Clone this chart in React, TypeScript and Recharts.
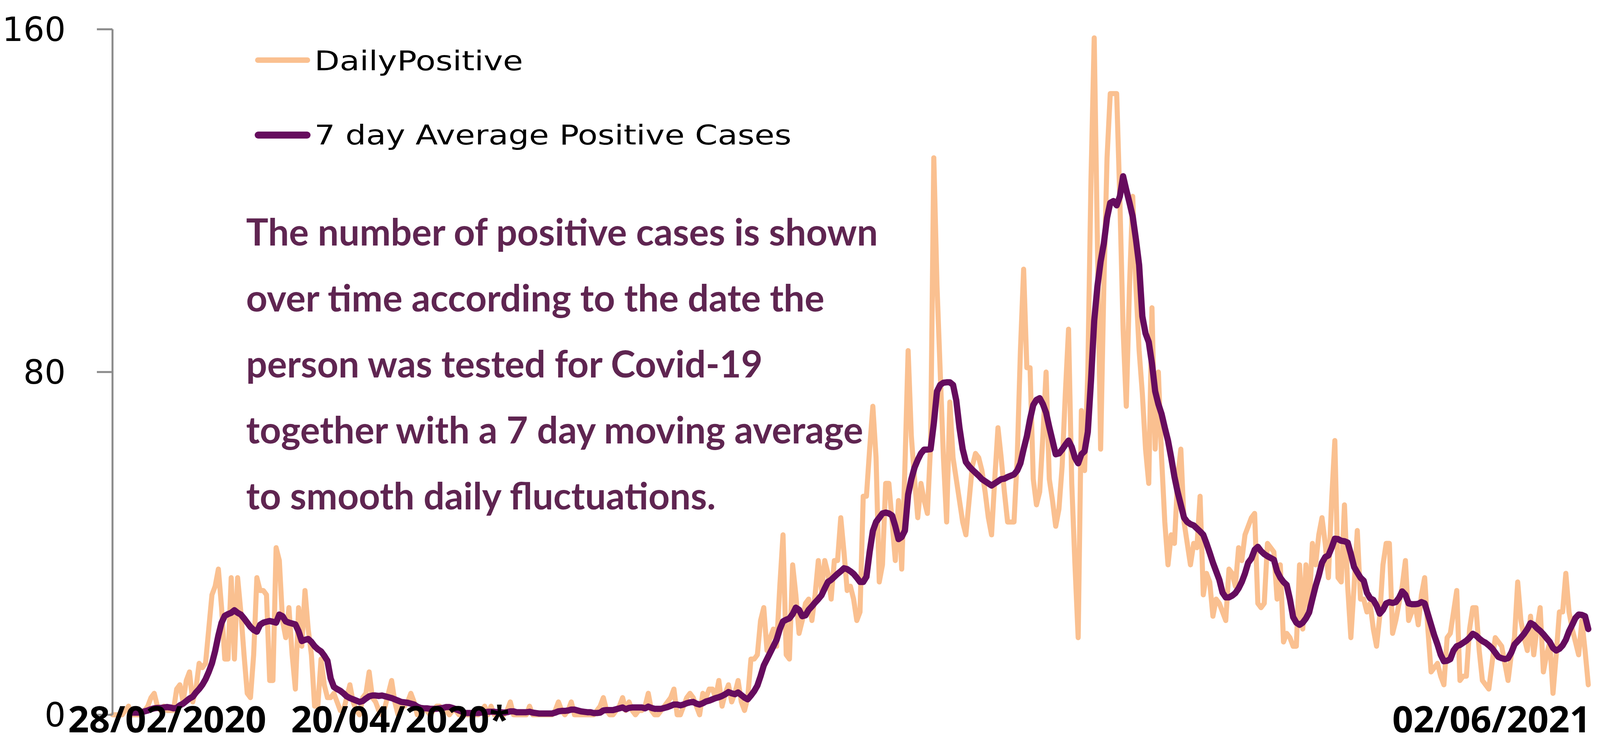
import React from "react";
import { LineChart, Line, XAxis, YAxis, Legend } from "recharts";

// one value per day, 28/02/2020 .. 02/06/2021
const DAILY_POSITIVE = [
  0, 0, 0, 0, 1, 2, 0, 0, 0, 0,
  1, 2, 4, 5, 2, 1, 2, 1, 1, 1,
  6, 7, 3, 8, 10, 3, 6, 12, 11, 12,
  20, 28, 30, 34, 25, 13, 13, 32, 13, 32,
  24, 14, 5, 4, 14, 32, 29, 29, 28, 8,
  8, 39, 36, 22, 18, 25, 14, 6, 25, 16,
  29, 20, 14, 2, 2, 13, 7, 4, 4, 5,
  3, 1, 1, 4, 7, 3, 1, 0, 4, 5,
  10, 4, 3, 1, 0, 2, 5, 8, 3, 0,
  3, 2, 3, 5, 3, 0, 1, 1, 1, 0,
  1, 2, 2, 1, 1, 0, 1, 1, 0, 0,
  0, 0, 0, 0, 0, 1, 2, 0, 2, 0,
  0, 0, 0, 1, 3, 0, 0, 0, 0, 0,
  2, 0, 0, 0, 0, 0, 0, 0, 1, 3,
  1, 0, 1, 3, 0, 0, 0, 0, 0, 0,
  0, 1, 2, 4, 1, 0, 0, 1, 2, 4,
  1, 3, 1, 0, 1, 1, 2, 5, 1, 0,
  0, 1, 2, 3, 4, 6, 0, 0, 2, 4,
  5, 4, 2, 0, 5, 4, 6, 6, 4, 8,
  2, 5, 7, 3, 5, 8, 3, 1, 4, 13,
  13, 14, 22, 25, 15, 18, 20, 16, 30, 42,
  14, 13, 35, 28, 19, 22, 26, 27, 22, 28,
  36, 29, 36, 33, 27, 36, 36, 46, 38, 29,
  30, 27, 22, 24, 51, 51, 62, 72, 60, 31,
  35, 54, 54, 45, 36, 50, 34, 58, 85, 65,
  55, 46, 54, 50, 47, 63, 130, 100, 80, 60,
  45, 73, 60, 55, 50, 45, 42, 50, 58, 61,
  60, 57, 52, 46, 42, 55, 67, 60, 52, 45,
  45, 45, 60, 85, 104, 81, 81, 55, 49, 52,
  65, 80, 55, 50, 44, 48, 58, 75, 90, 54,
  35, 18, 71, 57, 80, 125, 158, 110, 62, 100,
  130, 145, 145, 145, 120, 90, 72, 100, 121, 100,
  85, 75, 62, 54, 95, 62, 80, 60, 45, 35,
  42, 40, 55, 62, 45, 40, 35, 40, 39, 51,
  28, 33, 31, 23, 27, 26, 24, 22, 34, 33,
  30, 39, 36, 42, 44, 46, 47, 26, 25, 26,
  40, 39, 38, 27, 35, 17, 19, 18, 16, 16,
  35, 20, 35, 25, 40, 35, 42, 46, 40, 32,
  50, 64, 32, 31, 49, 30, 18, 30, 43, 27,
  27, 24, 26, 20, 16, 23, 35, 40, 40, 19,
  22, 26, 30, 36, 22, 24, 26, 21, 28, 32,
  20, 10, 11, 12, 9, 7, 18, 19, 24, 29,
  8, 9, 9, 20, 25, 25, 15, 8, 7, 6,
  12, 18, 17, 16, 12, 8, 14, 18, 31, 22,
  18, 15, 23, 14, 20, 25, 10, 14, 17, 5,
  14, 24, 24, 33, 24, 20, 17, 14, 22, 15,
  7,
];

// 7 day average, first value on day 7
const AVG_7_DAY = [
  null, null, null, null, null, null, 0.5, 0.5, 0.5, 0.6,
  0.8, 1.0, 1.3, 1.5, 1.6, 1.6, 1.7, 1.8, 1.7, 1.5,
  1.6, 2.2, 2.6, 3.2, 3.8, 4.2, 5.2, 6.0, 7.0, 8.3,
  10.0, 12.0, 14.9, 18.5, 21.5, 23.1, 23.5, 23.8, 24.4, 23.8,
  23.4, 22.5, 21.5, 20.5, 19.8, 19.4, 21.0, 21.5, 21.7, 21.9,
  21.7, 21.5, 23.4, 23.0, 21.8, 21.5, 21.3, 21.1, 19.5, 17.2,
  17.5, 17.7, 17.0, 16.0, 15.3, 14.8, 13.8, 12.6, 8.5, 6.5,
  6.0, 5.6, 5.0, 4.3, 3.9, 3.6, 3.3, 3.0, 3.2, 3.8,
  4.3, 4.5, 4.5, 4.4, 4.5, 4.3, 4.1, 3.9, 3.6, 3.3,
  3.0, 2.9, 2.8, 2.6, 2.4, 1.9, 1.6, 1.5, 1.5, 1.4,
  1.4, 1.4, 1.5, 1.6, 1.8, 1.8, 1.6, 1.3, 1.0, 0.7,
  0.4, 0.4, 0.4, 0.4, 0.4, 0.5, 0.6, 0.7, 0.7, 0.7,
  0.6, 0.6, 0.5, 0.6, 0.8, 0.8, 0.6, 0.6, 0.6, 0.6,
  0.7, 0.5, 0.4, 0.3, 0.3, 0.3, 0.3, 0.3, 0.5, 0.8,
  0.9, 0.9, 1.0, 1.2, 1.2, 1.0, 0.8, 0.7, 0.6, 0.6,
  0.4, 0.4, 0.5, 1.0, 1.1, 1.1, 1.1, 1.3, 1.5, 1.7,
  1.3, 1.6, 1.7, 1.7, 1.7, 1.7, 1.5, 1.9, 1.6, 1.4,
  1.4, 1.4, 1.6, 1.8, 2.1, 2.4, 2.4, 2.2, 2.4, 2.7,
  2.9, 3.0, 2.6, 2.4, 2.7, 3.1, 3.3, 3.6, 3.9, 4.1,
  4.4, 4.8, 5.3, 5.0, 4.8, 5.2, 4.6, 4.0, 3.6, 4.5,
  5.5, 6.8, 9.0, 11.5, 13.0, 14.5, 16.0, 17.5, 20.0, 21.8,
  22.2, 22.5, 23.5, 25.0, 24.5, 23.0, 23.2, 24.5, 25.3, 26.2,
  27.0, 27.9, 29.5, 31.0, 31.5, 32.2, 32.9, 33.5, 34.2, 34.0,
  33.5, 32.9, 32.0, 31.0, 31.0, 32.2, 38.0, 42.9, 45.0, 46.0,
  47.0, 47.2, 47.0, 46.5, 44.0, 41.0, 41.5, 43.0, 51.4, 55.0,
  57.7, 59.5, 61.0, 61.9, 61.9, 62.0, 68.0, 75.5, 77.0, 77.5,
  77.6, 77.6, 77.0, 73.4, 67.0, 62.0, 59.0, 58.0, 57.2, 56.5,
  55.8, 55.0, 54.5, 54.0, 53.5, 54.0, 54.5, 55.0, 55.1, 55.5,
  55.8, 56.1, 57.0, 58.7, 62.0, 65.0, 69.0, 72.3, 73.5, 73.9,
  72.5, 70.5, 67.1, 64.0, 60.8, 61.0, 61.9, 63.0, 64.0, 62.5,
  60.0, 58.7, 60.8, 61.5, 66.0, 78.0, 92.0, 100.0, 105.8, 110.0,
  116.0, 119.5, 119.9, 118.9, 121.0, 125.7, 122.5, 119.5, 116.3, 111.0,
  105.0, 93.0, 89.0, 87.0, 82.0, 75.5, 72.5, 70.2, 67.0, 64.0,
  60.0, 55.6, 52.0, 49.0, 46.0, 45.0, 44.5, 44.2, 43.5, 42.8,
  42.0, 40.0, 37.8, 35.5, 33.5, 31.5, 28.5, 27.4, 27.4, 27.8,
  28.4, 29.5, 31.0, 33.0, 35.5, 36.5, 38.5, 39.2, 38.2, 37.5,
  37.0, 36.6, 36.2, 33.5, 32.0, 31.0, 30.3, 27.0, 22.8, 21.5,
  21.0, 21.5, 22.5, 23.9, 27.0, 30.0, 32.5, 35.5, 36.8, 37.2,
  39.0, 41.1, 41.0, 40.6, 40.5, 40.2, 37.5, 34.5, 33.2, 32.0,
  31.3, 28.5, 27.2, 26.8, 25.5, 23.6, 24.5, 26.0, 26.3, 26.1,
  26.3, 27.3, 28.8, 28.0, 26.0, 25.8, 25.8, 25.9, 26.3, 26.0,
  23.5, 21.0, 18.5, 16.4, 14.0, 12.5, 12.6, 13.0, 15.0, 16.0,
  16.3, 16.8, 17.3, 18.0, 18.9, 18.5, 17.8, 17.2, 16.8, 16.2,
  15.5, 14.5, 13.5, 13.2, 13.0, 13.2, 14.5, 16.4, 17.2, 18.0,
  18.9, 20.0, 21.4, 21.0, 20.2, 19.6, 18.8, 17.9, 17.0, 15.6,
  15.0, 15.4, 16.2, 17.5, 19.5, 21.0, 22.6, 23.4, 23.3, 23.0,
  20.0,
];

const X_TICKS = [0, 52, 460];
const X_TICK_LABELS = ["28/02/2020", "20/04/2020*", "02/06/2021"];
const Y_TICKS = [0, 80, 160];

const SERIES_NAMES = ["DailyPositive", "7 day Average Positive Cases"];

const NOTE_LINES = [
  "The number of positive cases is shown",
  "over time according to the date the",
  "person was tested for Covid-19",
  "together with a 7 day moving average",
  "to smooth daily fluctuations.",
];

const ORANGE = "#fac090";
const PURPLE = "#660c5e";
const NOTE_COLOR = "#5f2551";
const AXIS_GREY = "#8a8a8a";

const H = 1911;

const data = DAILY_POSITIVE.map((v, i) => ({ day: i, daily: v, avg: AVG_7_DAY[i] }));

// the two left labels sit side by side at the left; the last one ends at its day
const TICK_PLACE = [
  { anchor: "middle", at: 428 },
  { anchor: "start", at: 745 },
  { anchor: "end", dx: 6 },
];

function DateTick(props: any) {
  const { x, payload } = props;
  const i = X_TICKS.indexOf(payload.value);
  if (i < 0) return null;
  const p: any = TICK_PLACE[i];
  const tx = p.at !== undefined ? p.at : x + p.dx;
  return (
    <text
      x={tx}
      y={1876}
      textAnchor={p.anchor}
      fontFamily="'Open Sans', sans-serif"
      fontWeight={700}
      fontSize={94}
      fill="#000"
    >
      {X_TICK_LABELS[i]}
    </text>
  );
}

function LegendBox() {
  const text = {
    fontFamily: "'DejaVu Sans', sans-serif",
    fontSize: 70,
    fill: "#000",
  };
  return (
    <svg width={2200} height={420}>
      <line x1={660} x2={787} y1={154} y2={154} stroke={ORANGE} strokeWidth={14} strokeLinecap="round" />
      <text x={805} y={180} style={text} textLength={534} lengthAdjust="spacingAndGlyphs">
        {SERIES_NAMES[0]}
      </text>
      <line x1={661} x2={786} y1={346} y2={346} stroke={PURPLE} strokeWidth={18} strokeLinecap="round" />
      <text x={805} y={370} style={text} textLength={1221} lengthAdjust="spacingAndGlyphs">
        {SERIES_NAMES[1]}
      </text>
    </svg>
  );
}

export default function App() {
  // fit the page width (4789 in the target window)
  const W = typeof window !== "undefined" && window.innerWidth ? Math.min(window.innerWidth, 4789) : 4789;
  return (
    <div style={{ position: "relative", width: W, height: H, margin: -8, background: "#fff" }}>
      <LineChart width={W} height={H} data={data} margin={{ top: 75, right: 30, bottom: 0, left: 0 }}>
        <XAxis
          dataKey="day"
          type="number"
          domain={[0, 460]}
          ticks={X_TICKS}
          interval={0}
          axisLine={false}
          tickLine={false}
          height={80}
          tick={<DateTick />}
        />
        <YAxis
          domain={[0, 160]}
          ticks={Y_TICKS}
          width={288}
          interval={0}
          axisLine={{ stroke: AXIS_GREY, strokeWidth: 5 }}
          tickLine={{ stroke: AXIS_GREY, strokeWidth: 5 }}
          tickSize={40}
          tickMargin={80}
          tick={{ fontFamily: "'DejaVu Sans', sans-serif", fontSize: 85, fill: "#000" }}
        />
        <Legend
          layout="horizontal"
          verticalAlign="middle"
          align="center"
          content={<LegendBox />}
          wrapperStyle={{ top: 0, left: 0, width: 2200, height: 420 }}
        />
        <Line
          type="linear"
          dataKey="daily"
          name={SERIES_NAMES[0]}
          stroke={ORANGE}
          strokeWidth={13}
          strokeLinejoin="round"
          strokeLinecap="round"
          dot={false}
          activeDot={false}
          isAnimationActive={false}
        />
        <Line
          type="linear"
          dataKey="avg"
          name={SERIES_NAMES[1]}
          stroke={PURPLE}
          strokeWidth={16}
          strokeLinejoin="round"
          strokeLinecap="round"
          dot={false}
          activeDot={false}
          isAnimationActive={false}
        />
      </LineChart>
      <svg
        width={W}
        height={H}
        style={{ position: "absolute", left: 0, top: 0, pointerEvents: "none" }}
      >
        {NOTE_LINES.map((line, i) => (
          <text
            key={i}
            x={630}
            y={629 + i * 169}
            fontFamily="Lato, sans-serif"
            fontWeight={700}
            fontSize={95}
            fill={NOTE_COLOR}
          >
            {line}
          </text>
        ))}
      </svg>
    </div>
  );
}
